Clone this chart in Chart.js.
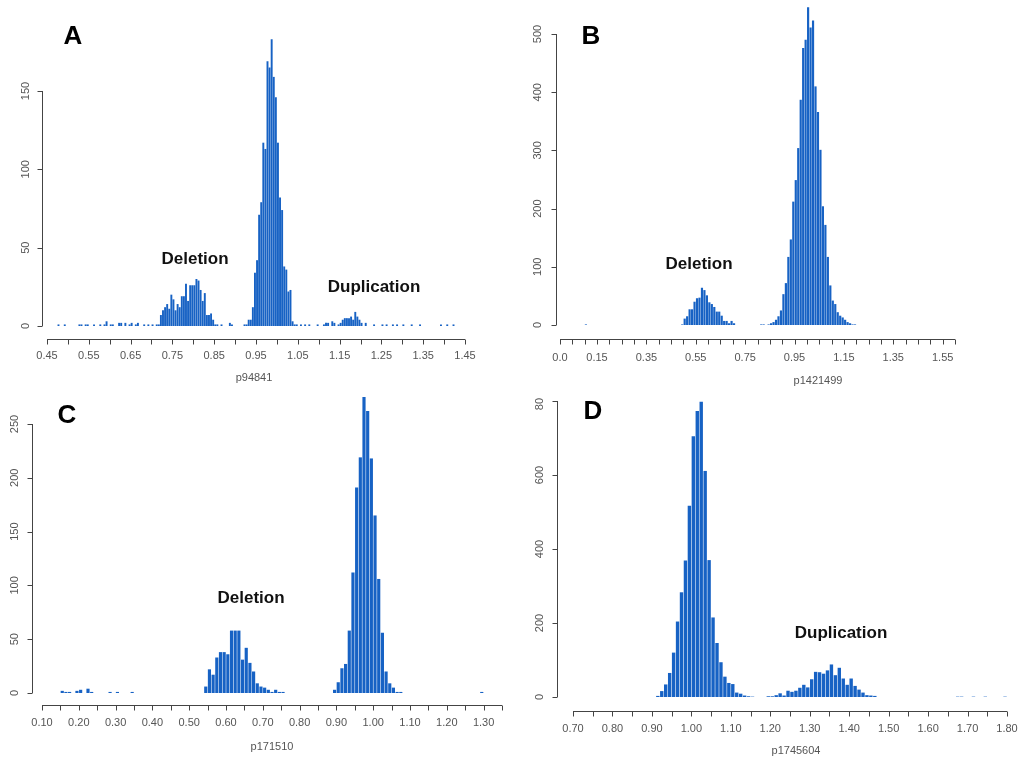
<!DOCTYPE html>
<html>
<head>
<meta charset="utf-8">
<script src="https://cdn.jsdelivr.net/npm/chart.js@4.4.0/dist/chart.umd.min.js"></script>
<style>
body { margin: 0; background: #fff; }
#wrap { position: relative; width: 1021px; height: 759px; overflow: hidden; background: #fff; }
canvas { position: absolute; }
</style>
</head>
<body>
<div id="wrap">
  <canvas id="cD" width="511" height="379" style="left:510px;top:380px"></canvas>
  <canvas id="cC" width="510" height="379" style="left:0px;top:380px"></canvas>
  <canvas id="cA" width="510" height="390" style="left:0px;top:0px"></canvas>
  <canvas id="cB" width="511" height="398" style="left:510px;top:0px;background:#fff"></canvas>
</div>
<script>
// histogram counts, one value per bin, bins start at binStartX with width binWidthX
const binStartA = 0.475, binWidthA = 0.005;
const countsA = [
    1, 0, 0, 1, 0, 0, 0, 0, 0, 0,
    1, 1, 0, 1, 1, 0, 0, 1, 0, 0,
    1, 0, 1, 3, 0, 1, 1, 0, 0, 2,
    2, 0, 2, 0, 1, 2, 0, 1, 2, 0,
    0, 1, 0, 1, 0, 1, 0, 1, 1, 7,
    10, 12, 14, 11, 20, 17, 10, 14, 12, 19,
    19, 27, 16, 26, 26, 26, 30, 29, 23, 16,
    21, 7, 7, 8, 4, 1, 1, 0, 1, 0,
    0, 0, 2, 1, 0, 0, 0, 0, 0, 1,
    1, 4, 4, 12, 34, 42, 71, 79, 117, 113,
    169, 165, 183, 159, 146, 117, 82, 74, 38, 36,
    22, 23, 3, 1, 1, 0, 1, 0, 1, 0,
    1, 0, 0, 0, 1, 0, 0, 1, 2, 2,
    0, 3, 2, 0, 1, 2, 4, 5, 5, 5,
    6, 4, 9, 6, 4, 2, 0, 2, 0, 0,
    0, 1, 0, 0, 0, 1, 0, 1, 0, 0,
    1, 0, 1, 0, 0, 1, 0, 0, 0, 1,
    0, 0, 0, 1, 0, 0, 0, 0, 0, 0,
    0, 0, 0, 1, 0, 0, 1, 0, 0, 1
];

const binStartB = 0.10, binWidthB = 0.01;
const countsB = [
    1, 0, 0, 0, 0, 0, 0, 0, 0, 0,
    0, 0, 0, 0, 0, 0, 0, 0, 0, 0,
    0, 0, 0, 0, 0, 0, 0, 0, 0, 0,
    0, 0, 0, 0, 0, 0, 0, 0, 0, 1,
    11, 15, 27, 27, 40, 46, 47, 64, 60, 51,
    39, 36, 31, 23, 23, 16, 7, 7, 3, 7,
    3, 0, 0, 0, 0, 0, 0, 0, 0, 0,
    0, 1, 1, 0, 1, 3, 5, 9, 15, 25,
    53, 72, 117, 147, 212, 249, 304, 387, 476, 490,
    546, 511, 523, 410, 366, 301, 204, 172, 117, 68,
    42, 36, 22, 16, 13, 9, 5, 3, 1, 1
];

const binStartC = 0.15, binWidthC = 0.01;
const countsC = [
    2, 1, 1, 0, 2, 3, 0, 4, 1, 0,
    0, 0, 0, 1, 0, 1, 0, 0, 0, 1,
    0, 0, 0, 0, 0, 0, 0, 0, 0, 0,
    0, 0, 0, 0, 0, 0, 0, 0, 0, 6,
    22, 17, 33, 38, 38, 36, 58, 58, 58, 31,
    42, 28, 20, 9, 6, 5, 3, 1, 3, 1,
    1, 0, 0, 0, 0, 0, 0, 0, 0, 0,
    0, 0, 0, 0, 3, 10, 23, 27, 58, 112,
    191, 219, 275, 262, 218, 165, 106, 56, 20, 9,
    5, 1, 1, 0, 0, 0, 0, 0, 0, 0,
    0, 0, 0, 0, 0, 0, 0, 0, 0, 0,
    0, 0, 0, 0, 1
];

const binStartD = 0.91, binWidthD = 0.01;
const countsD = [
    3, 16, 34, 65, 120, 204, 283, 369, 517, 705,
    773, 798, 611, 370, 215, 146, 94, 55, 38, 35,
    12, 9, 4, 2, 1, 0, 0, 0, 2, 2,
    5, 10, 4, 17, 14, 17, 25, 33, 26, 48,
    68, 67, 63, 72, 88, 59, 79, 50, 33, 50,
    30, 20, 12, 5, 4, 3, 0, 0, 0, 0,
    0, 0, 0, 0, 0, 0, 0, 0, 0, 0,
    0, 0, 0, 0, 0, 0, 1, 1, 0, 0,
    1, 0, 0, 1, 0, 0, 0, 0, 1
];

// axis tick labels
const xTickLabelsA = ['0.45', '0.55', '0.65', '0.75', '0.85', '0.95', '1.05', '1.15', '1.25', '1.35', '1.45'];
const xTickLabelsB = ['0.0', '0.15', '0.35', '0.55', '0.75', '0.95', '1.15', '1.35', '1.55'];
const xTickLabelsC = ['0.10', '0.20', '0.30', '0.40', '0.50', '0.60', '0.70', '0.80', '0.90', '1.00', '1.10', '1.20', '1.30'];
const xTickLabelsD = ['0.70', '0.80', '0.90', '1.00', '1.10', '1.20', '1.30', '1.40', '1.50', '1.60', '1.70', '1.80'];
const yTicksA = [0, 50, 100, 150];
const yTicksB = [0, 100, 200, 300, 400, 500];
const yTicksC = [0, 50, 100, 150, 200, 250];
const yTicksD = [0, 200, 400, 600, 800];

const titlesX = { A: 'p94841', B: 'p1421499', C: 'p171510', D: 'p1745604' };

const FONT = '"Liberation Sans", Arial, sans-serif';
const barColor = '#1762c4';
const axisColor = '#444';
const tickTextColor = '#555';

const panels = [
    {
        letter: 'A', canvas: 'cA', start: binStartA, width: binWidthA, counts: countsA,
        xMin: 0.45, xMax: 1.45, yMin: -8.3, yMax: 195.3,
        padding: { left: 47, right: 45, top: 20, bottom: 51 },
        xLabels: xTickLabelsA, yTicks: yTicksA, barPct: 0.92,
        yAxisX: 42, yLabelX: 26, xLabelY: 356, titlePos: [254, 378],
        letterPos: [73, 37],
        notes: [['Deletion', 195, 259], ['Duplication', 374, 287]]
    },
    {
        letter: 'B', canvas: 'cB', start: binStartB, width: binWidthB, counts: countsB,
        xMin: 0.0, xMax: 1.60, yMin: -24.05, yMax: 555,
        padding: { left: 50, right: 66, top: 2, bottom: 59 },
        xLabels: xTickLabelsB, yTicks: yTicksB, barPct: 0.88,
        yAxisX: 46, yLabelX: 28, xLabelY: 358, titlePos: [308, 381],
        letterPos: [81, 37],
        notes: [['Deletion', 189, 264]]
    },
    {
        letter: 'C', canvas: 'cC', start: binStartC, width: binWidthC, counts: countsC,
        xMin: 0.10, xMax: 1.35, yMin: -11.15, yMax: 281.6,
        padding: { left: 42, right: 8, top: 10, bottom: 54 },
        xLabels: xTickLabelsC, yTicks: yTicksC, barPct: 0.86,
        yAxisX: 32, yLabelX: 15, xLabelY: 343, titlePos: [272, 367],
        letterPos: [67, 36],
        notes: [['Deletion', 251, 218]]
    },
    {
        letter: 'D', canvas: 'cD', start: binStartD, width: binWidthD, counts: countsD,
        xMin: 0.70, xMax: 1.80, yMin: -37.8, yMax: 816.2,
        padding: { left: 63, right: 14, top: 15, bottom: 48 },
        xLabels: xTickLabelsD, yTicks: yTicksD, barPct: 0.86,
        yAxisX: 47, yLabelX: 30, xLabelY: 349, titlePos: [286, 371],
        letterPos: [83, 32],
        notes: [['Duplication', 331, 253]]
    }
];

// R style detached axes, drawn from the chart's own scales
function rAxesPlugin(p) {
    return {
        id: 'rAxes' + p.letter,
        afterDraw(chart) {
            const ctx = chart.ctx;
            const xs = chart.scales.x, ys = chart.scales.y;
            const axisY = Math.round(chart.chartArea.bottom) + 0.5;
            ctx.save();
            ctx.strokeStyle = axisColor;
            ctx.lineWidth = 1;

            // x axis with a tick every 0.05
            ctx.beginPath();
            ctx.moveTo(xs.getPixelForValue(p.xMin), axisY);
            ctx.lineTo(xs.getPixelForValue(p.xMax), axisY);
            const n = Math.round((p.xMax - p.xMin) / 0.05);
            for (let i = 0; i <= n; i++) {
                const px = Math.round(xs.getPixelForValue(p.xMin + i * 0.05)) + 0.5;
                ctx.moveTo(px, axisY);
                ctx.lineTo(px, axisY + 5);
            }
            ctx.stroke();

            // y axis
            const ax = p.yAxisX + 0.5;
            ctx.beginPath();
            ctx.moveTo(ax, ys.getPixelForValue(p.yTicks[0]));
            ctx.lineTo(ax, ys.getPixelForValue(p.yTicks[p.yTicks.length - 1]));
            p.yTicks.forEach(v => {
                const py = Math.round(ys.getPixelForValue(v)) + 0.5;
                ctx.moveTo(ax, py);
                ctx.lineTo(ax - 5, py);
            });
            ctx.stroke();

            ctx.fillStyle = tickTextColor;
            ctx.font = '11px ' + FONT;
            ctx.textAlign = 'center';
            ctx.textBaseline = 'middle';
            p.xLabels.forEach(lbl => {
                ctx.fillText(lbl, xs.getPixelForValue(parseFloat(lbl)), p.xLabelY);
            });
            p.yTicks.forEach(v => {
                ctx.save();
                ctx.translate(p.yLabelX, ys.getPixelForValue(v));
                ctx.rotate(-Math.PI / 2);
                ctx.fillText(String(v), 0, 0);
                ctx.restore();
            });
            ctx.fillText(titlesX[p.letter], p.titlePos[0], p.titlePos[1]);

            ctx.fillStyle = '#000';
            ctx.font = 'bold 26px ' + FONT;
            ctx.fillText(p.letter, p.letterPos[0], p.letterPos[1]);

            ctx.fillStyle = '#111';
            ctx.font = 'bold 17px ' + FONT;
            p.notes.forEach(([txt, x, y]) => ctx.fillText(txt, x, y));
            ctx.restore();
        }
    };
}

panels.forEach(p => {
    const points = p.counts.map((c, i) => ({ x: p.start + (i + 0.5) * p.width, y: c }));
    new Chart(document.getElementById(p.canvas), {
        type: 'bar',
        data: {
            datasets: [{
                data: points,
                backgroundColor: barColor,
                borderWidth: 0,
                barPercentage: p.barPct,
                categoryPercentage: 1
            }]
        },
        options: {
            responsive: false,
            animation: false,
            events: [],
            devicePixelRatio: 1,
            layout: { padding: p.padding },
            plugins: { legend: { display: false }, tooltip: { enabled: false } },
            scales: {
                x: { type: 'linear', display: false, min: p.xMin, max: p.xMax, offset: false },
                y: { display: false, min: p.yMin, max: p.yMax }
            }
        },
        plugins: [rAxesPlugin(p)]
    });
});
</script>
</body>
</html>
